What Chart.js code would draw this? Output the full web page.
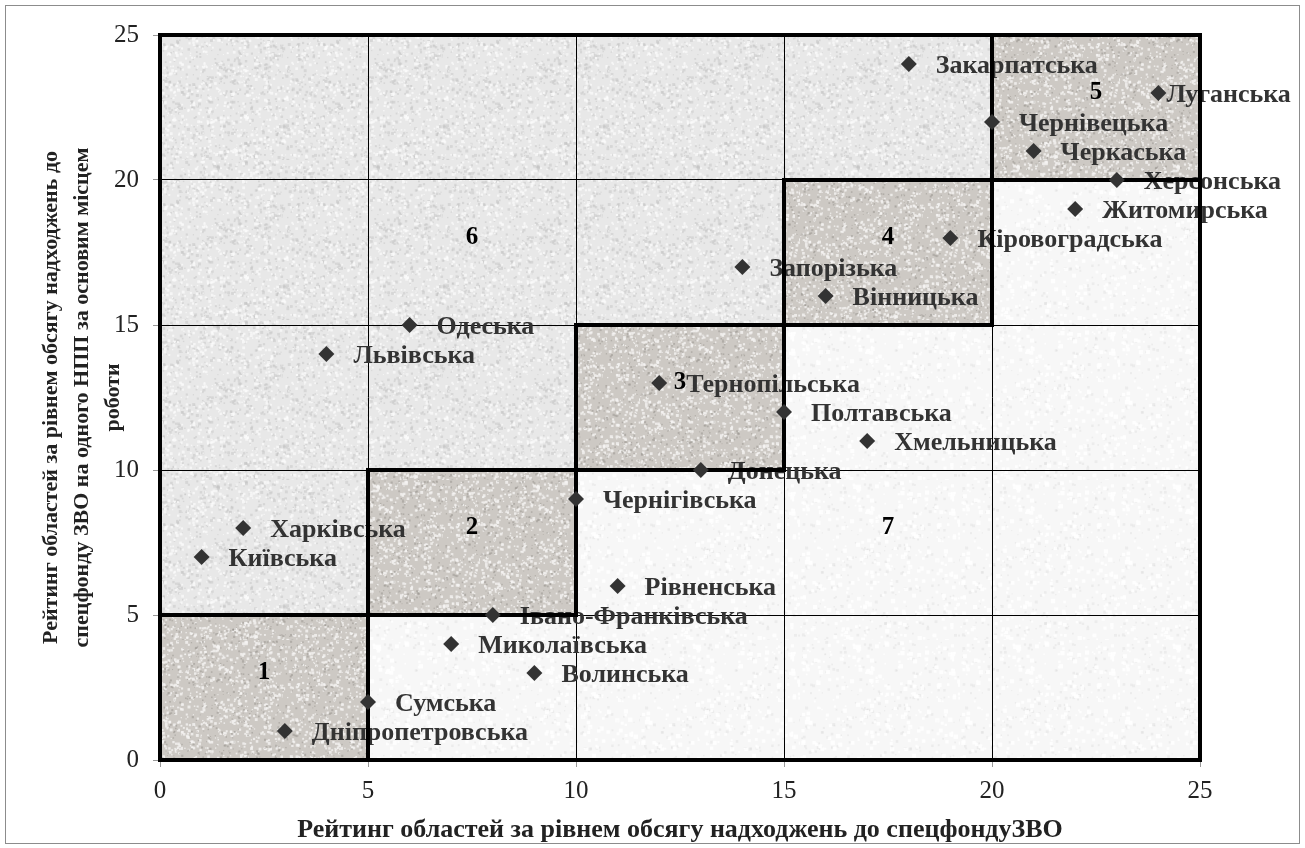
<!DOCTYPE html>
<html>
<head>
<meta charset="utf-8">
<script src="https://cdn.jsdelivr.net/npm/chart.js@4.4.1/dist/chart.umd.min.js"></script>
<style>
  html, body { margin: 0; padding: 0; background: #fff; }
  #wrap { position: relative; width: 1305px; height: 848px; }
  #frame { position: absolute; left: 5px; top: 5px; width: 1293px; height: 837px; border: 1px solid #8c8c8c; pointer-events: none; }
</style>
</head>
<body>
<div id="wrap">
  <canvas id="ratingChart" width="1305" height="848"></canvas>
  <div id="frame"></div>
</div>
<script>
// Області та їх рейтинги
var regions = ['Закарпатська', 'Луганська', 'Чернівецька', 'Черкаська', 'Херсонська', 'Житомирська',
    'Кіровоградська', 'Запорізька', 'Вінницька', 'Одеська', 'Львівська', 'Тернопільська',
    'Полтавська', 'Хмельницька', 'Донецька', 'Чернігівська', 'Харківська', 'Київська',
    'Рівненська', 'Івано-Франківська', 'Миколаївська', 'Волинська', 'Сумська', 'Дніпропетровська'];
var ratingX = [18, 24, 20, 21, 23, 22, 19, 14, 16, 6, 4, 12, 15, 17, 13, 10, 2, 1, 11, 8, 7, 9, 5, 3];
var ratingY = [24, 23, 22, 21, 20, 19, 18, 17, 16, 15, 14, 13, 12, 11, 10, 9, 8, 7, 6, 5, 4, 3, 2, 1];

// Зони (номер і центр)
var zoneNames = ['1', '2', '3', '4', '5', '6', '7'];
var zoneX = [2.5, 7.5, 12.5, 17.5, 22.5, 7.5, 17.5];
var zoneY = [3, 8, 13, 18, 23, 18, 8];

// Межі квадратів на діагоналі
var squareFrom = [0, 5, 10, 15, 20];
var squareTo = [5, 10, 15, 20, 25];

var axisMin = 0, axisMax = 25, axisStep = 5;

var serif = '"Liberation Serif", "Times New Roman", serif';
var labelGap = 27;
// labels that sit closer to their marker (px)
var labelNudge = { 'Луганська': -19 };

// simple deterministic noise for textures
function makeTexture(base, spots) {
    var c = document.createElement('canvas');
    c.width = 160; c.height = 160;
    var g = c.getContext('2d');
    g.fillStyle = base;
    g.fillRect(0, 0, 160, 160);
    var seed = 12345;
    function rnd() {
        seed = (seed * 1103515245 + 12345) % 2147483648;
        return seed / 2147483648;
    }
    spots.forEach(function(s) {
        g.fillStyle = s.color;
        for (var i = 0; i < s.count; i++) {
            var sz = s.size * (0.5 + rnd());
            g.fillRect(rnd() * 160, rnd() * 160, sz, sz);
        }
    });
    return g.createPattern(c, 'repeat');
}

var ctx = document.getElementById('ratingChart').getContext('2d');
var texUpper = makeTexture('#e8e8e8', [
    { color: 'rgba(195,195,195,0.5)', count: 900, size: 2 },
    { color: 'rgba(252,252,252,0.7)', count: 900, size: 2 }
]);
var texLower = makeTexture('#f7f7f7', [
    { color: 'rgba(222,222,222,0.45)', count: 300, size: 2 },
    { color: 'rgba(255,255,255,0.8)', count: 400, size: 3 }
]);
var texSquare = makeTexture('#cdc9c4', [
    { color: 'rgba(245,244,242,0.8)', count: 1300, size: 2 },
    { color: 'rgba(150,145,140,0.5)', count: 700, size: 1.5 }
]);

function poly(chart, pts, fill) {
    var xs = chart.scales.x, ys = chart.scales.y;
    var c = chart.ctx;
    c.beginPath();
    pts.forEach(function(p, i) {
        var px = xs.getPixelForValue(p[0]), py = ys.getPixelForValue(p[1]);
        if (i === 0) c.moveTo(px, py); else c.lineTo(px, py);
    });
    c.closePath();
    c.fillStyle = fill;
    c.fill();
}

var zonesPlugin = {
    id: 'zones',
    beforeDraw: function(chart) {
        var c = chart.ctx;
        c.save();
        poly(chart, [[0, 25], [20, 25], [20, 20], [15, 20], [15, 15], [10, 15], [10, 10], [5, 10], [5, 5], [0, 5]], texUpper);
        poly(chart, [[5, 0], [25, 0], [25, 20], [20, 20], [20, 15], [15, 15], [15, 10], [10, 10], [10, 5], [5, 5]], texLower);
        for (var i = 0; i < squareFrom.length; i++) {
            var a = squareFrom[i], b = squareTo[i];
            poly(chart, [[a, a], [b, a], [b, b], [a, b]], texSquare);
        }
        c.restore();
    },
    beforeDatasetsDraw: function(chart) {
        var c = chart.ctx;
        var xs = chart.scales.x, ys = chart.scales.y;
        c.save();
        // point labels
        c.font = 'bold 26px ' + serif;
        c.fillStyle = '#333333';
        c.textBaseline = 'middle';
        c.textAlign = 'left';
        for (var i = 0; i < regions.length; i++) {
            var dx = labelGap + (labelNudge[regions[i]] || 0);
            c.fillText(regions[i], xs.getPixelForValue(ratingX[i]) + dx, ys.getPixelForValue(ratingY[i]) + 2);
        }
        // thick borders
        c.strokeStyle = '#000';
        c.lineWidth = 4;
        var a = chart.chartArea;
        c.strokeRect(a.left, a.top, a.right - a.left, a.bottom - a.top);
        for (var k = 0; k < squareFrom.length; k++) {
            var x0 = xs.getPixelForValue(squareFrom[k]), x1 = xs.getPixelForValue(squareTo[k]);
            var y0 = ys.getPixelForValue(squareFrom[k]), y1 = ys.getPixelForValue(squareTo[k]);
            c.strokeRect(x0, y1, x1 - x0, y0 - y1);
        }
        // zone numbers
        c.font = 'bold 25px ' + serif;
        c.fillStyle = '#000';
        c.textAlign = 'center';
        for (var z = 0; z < zoneNames.length; z++) {
            c.fillText(zoneNames[z], xs.getPixelForValue(zoneX[z]), ys.getPixelForValue(zoneY[z]));
        }
        c.restore();
    }
};

var points = ratingX.map(function(x, i) { return { x: x, y: ratingY[i] }; });

new Chart(ctx, {
    type: 'scatter',
    data: {
        datasets: [{
            label: 'Області',
            data: points,
            pointStyle: 'rectRot',
            pointRadius: 8,
            pointHoverRadius: 8,
            backgroundColor: '#333333',
            borderColor: '#333333',
            borderWidth: 0
        }]
    },
    options: {
        responsive: false,
        animation: false,
        events: [],
        layout: { padding: { left: 0, top: 35, right: 105, bottom: 0 } },
        plugins: {
            legend: { display: false },
            tooltip: { enabled: false }
        },
        scales: {
            x: {
                type: 'linear',
                min: axisMin,
                max: axisMax,
                afterFit: function(s) { s.height = 88; },
                ticks: {
                    stepSize: axisStep,
                    padding: 9,
                    color: '#222',
                    font: { family: serif, size: 25 }
                },
                grid: { color: '#000', lineWidth: 1, tickColor: '#999', tickLength: 7 },
                border: { display: false },
                title: {
                    display: true,
                    text: 'Рейтинг областей за рівнем обсягу надходжень до спецфондуЗВО',
                    color: '#222',
                    font: { family: serif, size: 26, weight: 'bold' },
                    padding: { top: 0, bottom: 2 }
                }
            },
            y: {
                type: 'linear',
                min: axisMin,
                max: axisMax,
                afterFit: function(s) { s.width = 160; },
                ticks: {
                    stepSize: axisStep,
                    padding: 14,
                    color: '#222',
                    font: { family: serif, size: 25 }
                },
                grid: { color: '#000', lineWidth: 1, tickColor: '#999', tickLength: 7 },
                border: { display: false },
                title: {
                    display: true,
                    text: ['Рейтинг областей за рівнем обсягу надходжень до',
                           'спецфонду ЗВО на одного НПП за основим місцем',
                           'роботи'],
                    color: '#222',
                    font: { family: serif, size: 22, weight: 'bold', lineHeight: 1.4 },
                    padding: { top: 36, bottom: 0 }
                }
            }
        }
    },
    plugins: [zonesPlugin]
});
</script>
</body>
</html>
